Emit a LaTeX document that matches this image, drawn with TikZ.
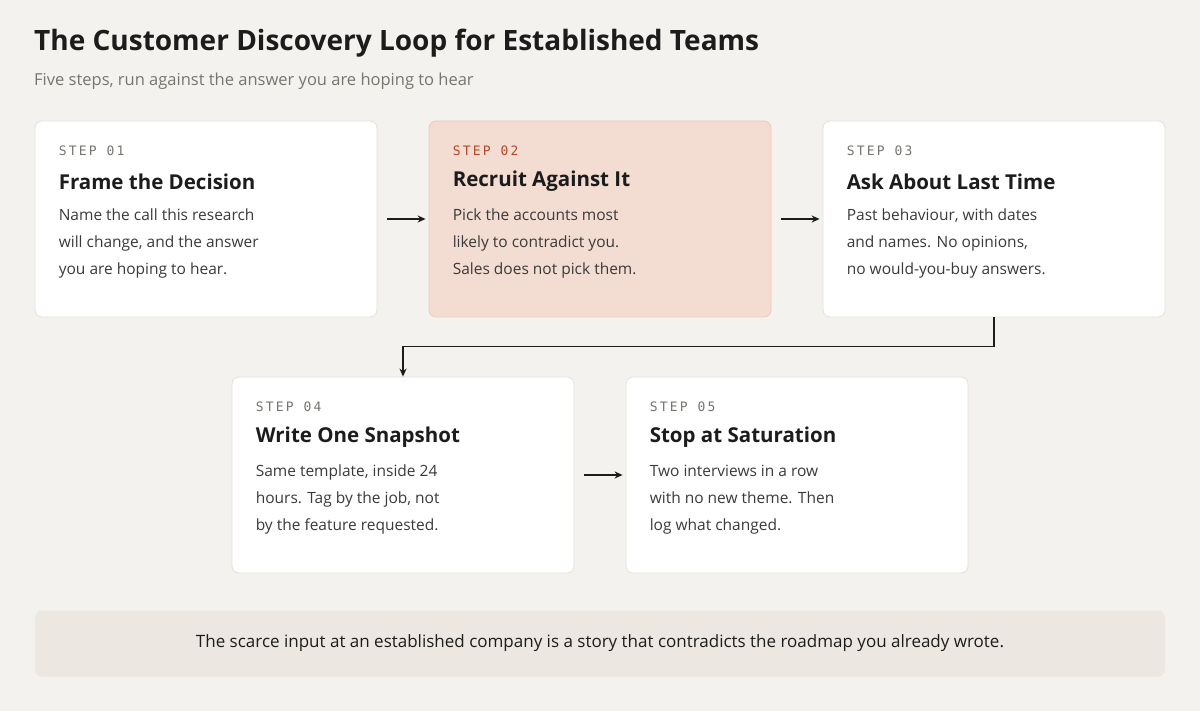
\documentclass[tikz,border=0pt]{standalone}
\usepackage{fontspec}
\setmainfont{Open Sans}
\setmonofont{DejaVu Sans Mono}
\usetikzlibrary{positioning,arrows.meta}
\definecolor{bgcol}{HTML}{F4F2EE}
\definecolor{hotcol}{HTML}{F3DCD1}
\definecolor{hotline}{HTML}{EBC9BA}
\definecolor{edgecol}{HTML}{E4E1DA}
\definecolor{bandcol}{HTML}{ECE8E1}
\definecolor{stepred}{HTML}{B5472A}
\definecolor{inkcol}{HTML}{1C1C1C}
\definecolor{bodycol}{HTML}{3A3A3A}
\definecolor{subcol}{HTML}{77756F}
\tikzset{
  card/.style={draw=edgecol, line width=0.8pt, fill=white, rounded corners=7pt,
    minimum width=342pt, minimum height=196pt, inner sep=0pt},
  hot/.style={card, fill=hotcol, draw=hotline},
  steplbl/.style={anchor=west, inner sep=0pt, text=subcol, font=\ttfamily\fontsize{13}{13}\selectfont},
  headlbl/.style={anchor=west, inner sep=0pt, text=inkcol, font=\fontsize{20.5}{20.5}\selectfont\bfseries},
  bodylbl/.style={anchor=north west, inner sep=0pt, text=bodycol, align=left,
    font=\fontsize{15.5}{27}\selectfont},
  flow/.style={-{Stealth[length=8pt,width=7pt]}, line width=1.6pt, inkcol}
}
\newcommand{\steptext}[5]{%
  \node[steplbl, #5] (#1s) at ([xshift=24pt,yshift=-30pt]#1.north west) {#2};
  \node[headlbl] (#1h) at ([xshift=24pt,yshift=-61pt]#1.north west) {#3};
  \node[bodylbl] (#1b) at ([xshift=24pt,yshift=-88pt]#1.north west) {#4};
}
\begin{document}
\begin{tikzpicture}[x=1pt,y=-1pt]
\fill[bgcol] (0,0) rectangle (1200,711);
\useasboundingbox (0,0) rectangle (1200,711);
% title
\node[anchor=west, inner sep=0pt, text=inkcol, font=\fontsize{28}{28}\selectfont\bfseries] (title) at (34,43)
  {The Customer Discovery Loop for Established Teams};
\node[anchor=west, inner sep=0pt, text=subcol, font=\fontsize{16.5}{16.5}\selectfont] (subtitle) at (34,81)
  {Five steps, run against the answer you are hoping to hear};
% cards
\node[card] (c1) at (206,219) {};
\node[hot]  (c2) at (600,219) {};
\node[card] (c3) at (994,219) {};
\node[card] (c4) at (403,475) {};
\node[card] (c5) at (797,475) {};
\steptext{c1}{S\,T\,E\,P\,\ 0\,1}{Frame the Decision}{Name the call this research\\will change, and the answer\\you are hoping to hear.}{}
\steptext{c2}{S\,T\,E\,P\,\ 0\,2}{Recruit Against It}{Pick the accounts most\\likely to contradict you.\\Sales does not pick them.}{text=stepred}
\steptext{c3}{S\,T\,E\,P\,\ 0\,3}{Ask About Last Time}{Past behaviour, with dates\\and names. No opinions,\\no would-you-buy answers.}{}
\steptext{c4}{S\,T\,E\,P\,\ 0\,4}{Write One Snapshot}{Same template, inside 24\\hours. Tag by the job, not\\by the feature requested.}{}
\steptext{c5}{S\,T\,E\,P\,\ 0\,5}{Stop at Saturation}{Two interviews in a row\\with no new theme. Then\\log what changed.}{}
% connectors
\draw[flow, shorten <=10pt, shorten >=3pt] (c1.east) -- (c2.west);
\draw[flow, shorten <=10pt, shorten >=3pt] (c2.east) -- (c3.west);
\draw[flow, shorten <=10pt, shorten >=3pt] (c4.east) -- (c5.west);
\draw[flow] (c3.south) |- ++(0,29) -| (c4.north);
% takeaway band
\node[fill=bandcol, rounded corners=7pt, minimum width=1130pt, minimum height=66pt, inner sep=0pt,
  text=inkcol, font=\fontsize{17}{17}\selectfont] (band) at (600,643.5)
  {The scarce input at an established company is a story that contradicts the roadmap you already wrote.};
\end{tikzpicture}
\end{document}
